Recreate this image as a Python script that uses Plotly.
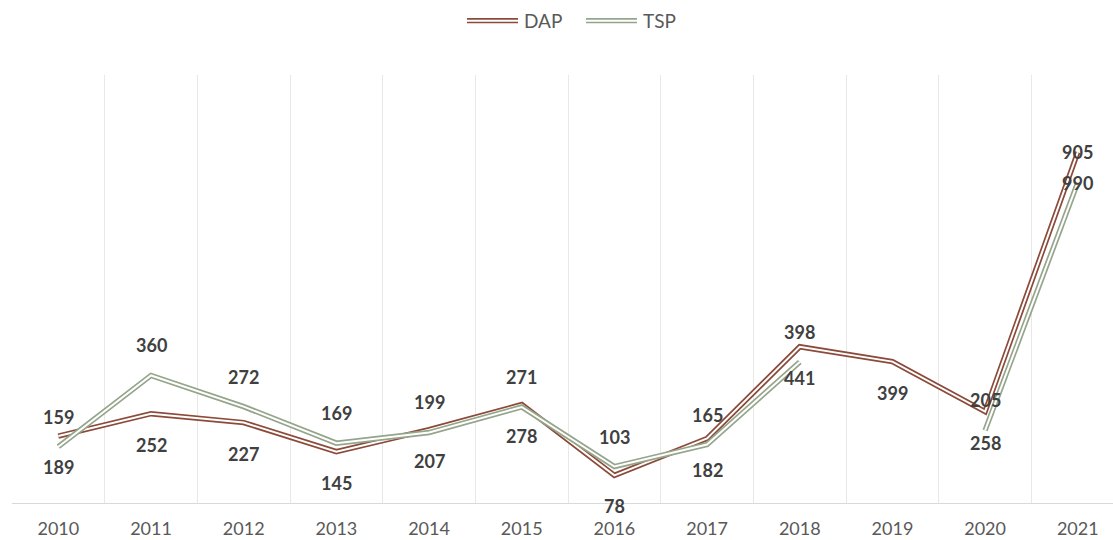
import plotly.graph_objects as go

years = ["2010", "2011", "2012", "2013", "2014", "2015", "2016", "2017", "2018", "2019", "2020", "2021"]
dap = [189, 252, 227, 145, 207, 278, 78, 182, 441, 399, 258, 990]
tsp = [159, 360, 272, 169, 199, 271, 103, 165, 398, None, 205, 905]

DAP_COLOR = "#8C4B3A"
TSP_COLOR = "#95A58B"
LABEL_COLOR = "#404040"
FONT = "Lato, Open Sans, sans-serif"

xs = list(range(len(years)))

fig = go.Figure()
for vals, color in ((dap, DAP_COLOR), (tsp, TSP_COLOR)):
    fig.add_trace(go.Scatter(x=xs, y=vals, mode="lines", line=dict(color=color, width=5.4),
                             showlegend=False, hoverinfo="skip"))
    fig.add_trace(go.Scatter(x=xs, y=vals, mode="lines", line=dict(color="white", width=2),
                             showlegend=False, hoverinfo="skip"))

annotations = []
for i, v in enumerate(tsp):
    if v is not None:
        annotations.append(dict(x=i, y=v, text=f"<b>{v}</b>", showarrow=False, yshift=30,
                                font=dict(size=18, color=LABEL_COLOR, family=FONT)))
for i, v in enumerate(dap):
    annotations.append(dict(x=i, y=v, text=f"<b>{v}</b>", showarrow=False, yshift=-31,
                            font=dict(size=18, color=LABEL_COLOR, family=FONT)))

# manual legend with double-line symbols (plot area spans x 12..1113 px)
shapes = []
legend_items = [("DAP", DAP_COLOR, 467, 518), ("TSP", TSP_COLOR, 586, 637)]
PW = 1113 - 12
for name, color, px0, px1 in legend_items:
    x0 = (px0 - 12) / PW
    x1 = (px1 - 12) / PW
    shapes.append(dict(type="line", xref="paper", yref="paper", x0=x0, x1=x1, y0=1.127, y1=1.127,
                       line=dict(color=color, width=5.4)))
    shapes.append(dict(type="line", xref="paper", yref="paper", x0=x0, x1=x1, y0=1.127, y1=1.127,
                       line=dict(color="white", width=2)))
    annotations.append(dict(xref="paper", yref="paper", x=x1 + 0.004, y=1.127, xanchor="left",
                            yanchor="middle", text=name, showarrow=False,
                            font=dict(size=19, color="#595959", family=FONT)))

fig.update_layout(
    width=1113, height=540,
    margin=dict(l=12, r=0, t=75, b=37, autoexpand=False),
    paper_bgcolor="white", plot_bgcolor="white",
    showlegend=False,
    shapes=shapes,
    annotations=annotations,
    xaxis=dict(range=[-0.5, 11.38], tickmode="array", tickvals=xs, ticktext=years,
               automargin=False,
               showgrid=False, zeroline=False, showline=True, linecolor="#D9D9D9", linewidth=1,
               ticks="", ticklabelstandoff=9, tickfont=dict(size=18, color="#595959", family=FONT),
               minor=dict(tick0=-0.5, dtick=1, showgrid=True, gridcolor="#E8E8E8", gridwidth=1, ticks="")),
    yaxis=dict(range=[0, 1208], showgrid=False, zeroline=False, showticklabels=False, showline=False,
               automargin=False),
)

fig.write_html("out.html", config={"displayModeBar": False},
               post_script="document.body.style.margin='0px';")
